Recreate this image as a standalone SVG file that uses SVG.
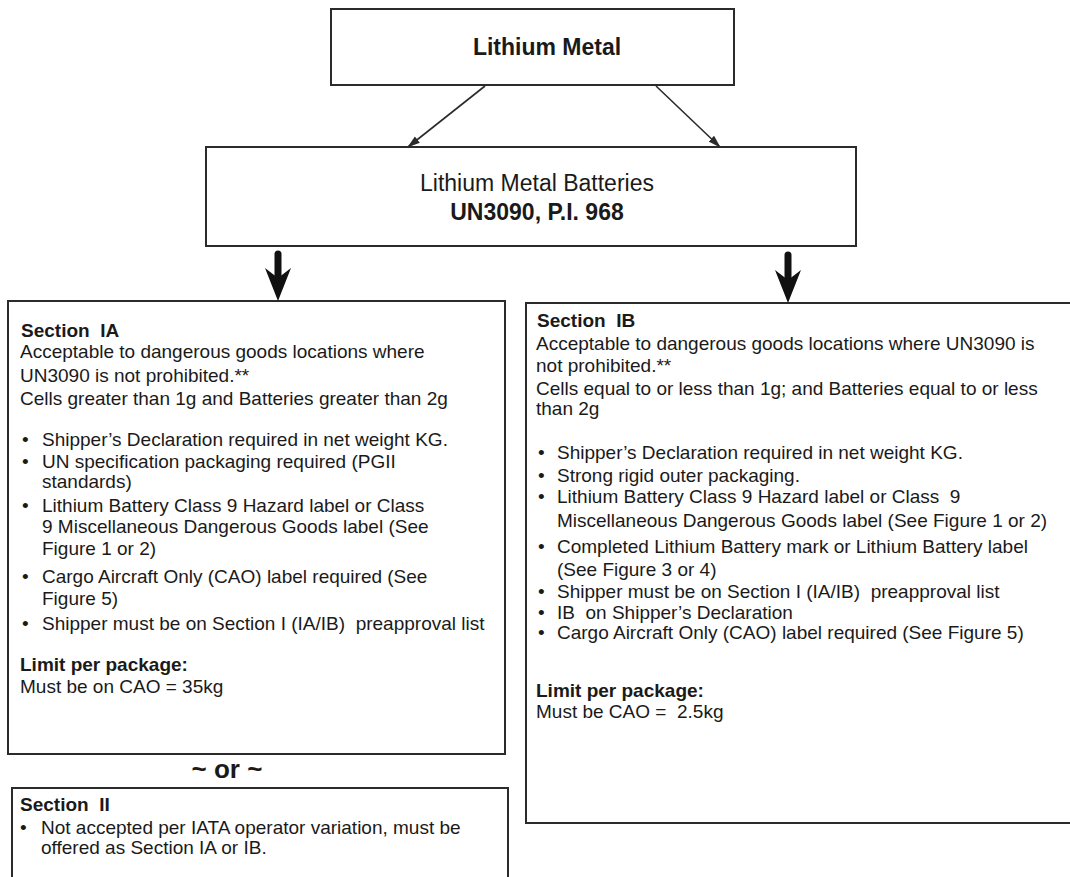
<svg xmlns="http://www.w3.org/2000/svg" width="1070" height="877" viewBox="0 0 1070 877">
<style>
.box{fill:#fff;stroke:#2b2b2b;stroke-width:2}
.t{font-family:"Liberation Sans",Arial,sans-serif;font-size:19px;fill:#1a1a1a;white-space:pre}
.b{font-weight:bold}
.big{font-size:23px}
.or{font-size:26px;font-weight:bold}
.thin{stroke:#2b2b2b;stroke-width:1.6;fill:none}
.thick{stroke:#111;stroke-width:7;stroke-linecap:round;fill:none}
.head{fill:#111}
</style>
<defs>
<marker id="ah" markerUnits="userSpaceOnUse" markerWidth="13" markerHeight="10" refX="12" refY="5" orient="auto">
<path d="M0,1 L13,5 L0,9 Z" fill="#2b2b2b"/>
</marker>
</defs>
<rect width="1070" height="877" fill="#fff"/>

<g id="node-lithium-metal">
<rect class="box" x="331" y="9" width="403" height="76"/>
<text class="t b big" x="547" y="55" text-anchor="middle">Lithium Metal</text>
</g>

<g id="node-batteries">
<rect class="box" x="206" y="147" width="650" height="99"/>
<text class="t big" x="537" y="191" text-anchor="middle">Lithium Metal Batteries</text>
<text class="t b big" x="537" y="220" text-anchor="middle">UN3090, P.I. 968</text>
</g>

<g id="node-section-ia">
<rect class="box" x="8" y="301" width="497" height="453"/>
<text class="t b" x="21" y="337">Section  IA</text>
<text class="t" x="20" y="358">Acceptable to dangerous goods locations where</text>
<text class="t" x="20" y="382">UN3090 is not prohibited.**</text>
<text class="t" x="20" y="405">Cells greater than 1g and Batteries greater than 2g</text>
<text class="t" x="22" y="446">•</text><text class="t" x="42" y="446">Shipper’s Declaration required in net weight KG.</text>
<text class="t" x="22" y="468">•</text><text class="t" x="42" y="468">UN specification packaging required (PGII</text>
<text class="t" x="42" y="488">standards)</text>
<text class="t" x="22" y="512">•</text><text class="t" x="42" y="512">Lithium Battery Class 9 Hazard label or Class</text>
<text class="t" x="42" y="533">9 Miscellaneous Dangerous Goods label (See</text>
<text class="t" x="42" y="555">Figure 1 or 2)</text>
<text class="t" x="22" y="583">•</text><text class="t" x="42" y="583">Cargo Aircraft Only (CAO) label required (See</text>
<text class="t" x="42" y="605">Figure 5)</text>
<text class="t" x="22" y="630">•</text><text class="t" x="42" y="630">Shipper must be on Section I (IA/IB)  preapproval list</text>
<text class="t b" x="20" y="671">Limit per package:</text>
<text class="t" x="20" y="693">Must be on CAO = 35kg</text>
</g>

<g id="label-or">
<text class="t or" x="227" y="778" text-anchor="middle">~ or ~</text>
</g>

<g id="node-section-ii">
<rect class="box" x="12" y="788" width="496" height="110"/>
<text class="t b" x="20" y="811">Section  II</text>
<text class="t" x="20" y="834">•</text><text class="t" x="41" y="834">Not accepted per IATA operator variation, must be</text>
<text class="t" x="41" y="854">offered as Section IA or IB.</text>
</g>

<g id="node-section-ib">
<rect class="box" x="526" y="303" width="560" height="520"/>
<text class="t b" x="537" y="327">Section  IB</text>
<text class="t" x="536" y="350">Acceptable to dangerous goods locations where UN3090 is</text>
<text class="t" x="536" y="372">not prohibited.**</text>
<text class="t" x="536" y="395">Cells equal to or less than 1g; and Batteries equal to or less</text>
<text class="t" x="536" y="415">than 2g</text>
<text class="t" x="538" y="459">•</text><text class="t" x="557" y="459">Shipper’s Declaration required in net weight KG.</text>
<text class="t" x="538" y="482">•</text><text class="t" x="557" y="482">Strong rigid outer packaging.</text>
<text class="t" x="538" y="503">•</text><text class="t" x="557" y="503">Lithium Battery Class 9 Hazard label or Class  9</text>
<text class="t" x="557" y="527">Miscellaneous Dangerous Goods label (See Figure 1 or 2)</text>
<text class="t" x="538" y="553">•</text><text class="t" x="557" y="553">Completed Lithium Battery mark or Lithium Battery label</text>
<text class="t" x="557" y="576">(See Figure 3 or 4)</text>
<text class="t" x="538" y="598">•</text><text class="t" x="557" y="598">Shipper must be on Section I (IA/IB)  preapproval list</text>
<text class="t" x="538" y="619">•</text><text class="t" x="557" y="619">IB  on Shipper’s Declaration</text>
<text class="t" x="538" y="639">•</text><text class="t" x="557" y="639">Cargo Aircraft Only (CAO) label required (See Figure 5)</text>
<text class="t b" x="536" y="697">Limit per package:</text>
<text class="t" x="536" y="718">Must be CAO =  2.5kg</text>
</g>

<g id="connectors">
<line class="thin" x1="485" y1="86" x2="408" y2="147" marker-end="url(#ah)"/>
<line class="thin" x1="656" y1="86" x2="720" y2="147" marker-end="url(#ah)"/>
<line class="thick" x1="278" y1="254" x2="278" y2="282"/>
<path class="head" d="M278,301 L265,268 L278,278 L291,268 Z"/>
<line class="thick" x1="788" y1="255" x2="788" y2="284"/>
<path class="head" d="M788,303 L775,270 L788,280 L801,270 Z"/>
</g>
</svg>
